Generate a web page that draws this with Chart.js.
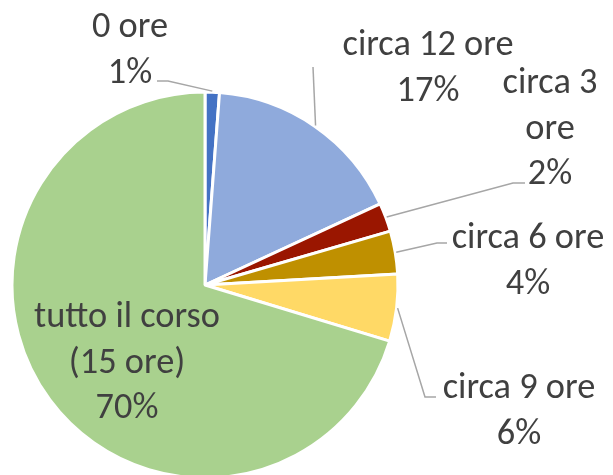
<!DOCTYPE html>
<html>
<head>
<meta charset="utf-8">
<script src="https://cdn.jsdelivr.net/npm/chart.js@4"></script>
<style>
html,body{margin:0;padding:0;background:#fff;}
#wrap{width:613px;height:475px;position:relative;}
</style>
</head>
<body>
<div id="wrap"><canvas id="c" width="613" height="475"></canvas></div>
<script>
// ---- data ----
const categories = ["0 ore", "circa 12 ore", "circa 3 ore", "circa 6 ore", "circa 9 ore", "tutto il corso (15 ore)"];
const values = [1.2, 16.9, 2.4, 3.6, 5.6, 70.3];
const labelLines = [["0 ore"], ["circa 12 ore"], ["circa 3", "ore"], ["circa 6 ore"], ["circa 9 ore"], ["tutto il corso", "(15 ore)"]];
const colors = ["#4472C4", "#8FAADC", "#9A1600", "#BF9000", "#FFD966", "#A9D18E"];

// ---- label layout (positions of text blocks & leader lines) ----
const labelLayout = [
  {x: 130, y: 37, leader: [[168, 81], [157, 81]]},
  {x: 428, y: 55, leader: [[313, 67]]},
  {x: 550, y: 93, leader: [[513, 183], [525, 183]]},
  {x: 528, y: 248, leader: [[437, 243], [447, 243]]},
  {x: 519, y: 398, leader: [[425, 397], [436, 397]]},
  {x: 127, y: 327, leader: null}
];
const LINE_H = 45.5;

const labelPlugin = {
  id: 'pieLabels',
  afterDatasetsDraw(chart) {
    const ctx = chart.ctx;
    const meta = chart.getDatasetMeta(0);
    const total = values.reduce((a, b) => a + b, 0);
    // fit font size so "circa 12 ore" is ~171px wide
    ctx.save();
    ctx.font = '100px Carlito, Lato, sans-serif';
    const w100 = ctx.measureText('circa 12 ore').width;
    const fs = 100 * 171 / w100;
    ctx.font = fs.toFixed(2) + 'px Carlito, Lato, sans-serif';
    ctx.fillStyle = '#404040';
    ctx.textAlign = 'center';
    ctx.textBaseline = 'alphabetic';
    meta.data.forEach((arc, i) => {
      const p = arc.getProps(['x', 'y', 'startAngle', 'endAngle', 'outerRadius'], true);
      const lay = labelLayout[i];
      if (lay.leader) {
        const mid = (p.startAngle + p.endAngle) / 2;
        const r = p.outerRadius + 1;
        ctx.beginPath();
        ctx.moveTo(p.x + Math.cos(mid) * r, p.y + Math.sin(mid) * r);
        lay.leader.forEach(pt => ctx.lineTo(pt[0], pt[1]));
        ctx.strokeStyle = '#A6A6A6';
        ctx.lineWidth = 1.5;
        ctx.stroke();
      }
      const lines = labelLines[i].concat([Math.round(values[i] / total * 100) + '%']);
      lines.forEach((t, k) => ctx.fillText(t, lay.x, lay.y + k * LINE_H));
    });
    ctx.restore();
  }
};

new Chart(document.getElementById('c'), {
  type: 'pie',
  data: {
    labels: categories,
    datasets: [{
      data: values,
      backgroundColor: colors,
      borderColor: '#FFFFFF',
      borderWidth: 3
    }]
  },
  options: {
    responsive: false,
    animation: false,
    radius: 193,
    layout: {padding: {left: 0, right: 203, top: 95, bottom: 0}},
    plugins: {legend: {display: false}, tooltip: {enabled: false}}
  },
  plugins: [labelPlugin]
});
</script>
</body>
</html>
